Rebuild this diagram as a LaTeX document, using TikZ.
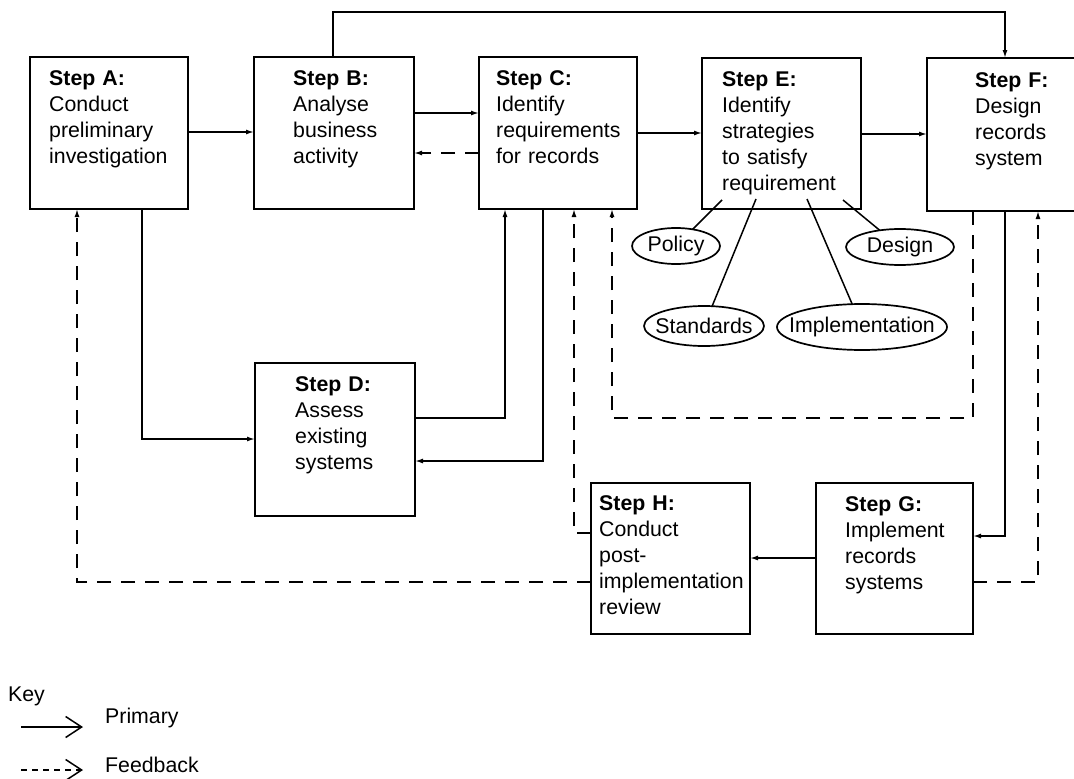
\documentclass[tikz,border=0pt]{standalone}
\usepackage{fontspec}
\setmainfont{Liberation Sans}
\usetikzlibrary{arrows.meta,shapes.geometric}
\newcommand\dgfont{\fontsize{21.3}{26}\selectfont}
\tikzset{
  stepbox/.style={draw, rectangle, line width=2.3pt, inner sep=0pt, outer sep=0pt},
  txt/.style={font=\dgfont, align=left, text width=165pt, inner sep=0pt, anchor=base west},
  pri/.style={line width=1.5pt, -{Latex[length=8pt,width=5pt]}},
  fb/.style={pri, dash pattern=on 14pt off 10pt},
  link/.style={line width=1.5pt},
  oval/.style={draw, ellipse, line width=1.7pt, inner sep=0pt, outer sep=0pt},
  every label/.style={font=\dgfont, inner sep=0pt},
  keytxt/.style={font=\dgfont, inner sep=0pt, anchor=base west},
}
\begin{document}
\begin{tikzpicture}[x=1pt,y=-1pt]
\useasboundingbox (0,0) rectangle (1074,779);
\fill[white] (0,0) rectangle (1074,779);
\clip (0,0) rectangle (1074,779);

% boxes
\node[stepbox, minimum width=158pt, minimum height=152pt] (A) at (109,133) {};
\node[stepbox, minimum width=160pt, minimum height=152pt] (B) at (334,133) {};
\node[stepbox, minimum width=158pt, minimum height=152pt] (C) at (558,133) {};
\node[stepbox, minimum width=159pt, minimum height=151pt] (E) at (781.5,133.5) {};
\node[stepbox, minimum width=160pt, minimum height=153pt] (F) at (1007,134.5) {};
\node[stepbox, minimum width=160pt, minimum height=153pt] (D) at (335,439.5) {};
\node[stepbox, minimum width=159pt, minimum height=151pt] (H) at (670.5,558.5) {};
\node[stepbox, minimum width=157pt, minimum height=151pt] (G) at (894.5,558.5) {};

% texts
\node[txt] (At) at (49,85) {\textbf{Step A:}\\Conduct\\preliminary\\investigation};
\node[txt] (Bt) at (293,85) {\textbf{Step B:}\\Analyse\\business\\activity};
\node[txt] (Ct) at (496,85) {\textbf{Step C:}\\Identify\\requirements\\for records};
\node[txt] (Et) at (722,86) {\textbf{Step E:}\\Identify\\strategies\\to satisfy\\requirement};
\node[txt] (Ft) at (975,87) {\textbf{Step F:}\\Design\\records\\system};
\node[txt] (Dt) at (295,391) {\textbf{Step D:}\\Assess\\existing\\systems};
\node[txt] (Ht) at (599,510) {\textbf{Step H:}\\Conduct\\post-\\implementation\\review};
\node[txt] (Gt) at (845,511) {\textbf{Step G:}\\Implement\\records\\systems};

% ellipses
\node[oval, minimum width=88pt, minimum height=36pt, label={center:Policy}] (pol) at (676,246) {};
\node[oval, minimum width=108pt, minimum height=36pt, label={center:Design}] (des) at (900,247) {};
\node[oval, minimum width=120pt, minimum height=40pt, label={center:Standards}] (std) at (704,326) {};
\node[oval, minimum width=170pt, minimum height=46pt, label={center:Implementation}] (imp) at (862,327) {};

\coordinate (e1) at (722,200);
\coordinate (e2) at (756,199);
\coordinate (e3) at (807,199);
\coordinate (e4) at (843,200);
\draw[link] (e1) -- (pol);
\draw[link] (e2) -- (std);
\draw[link] (e3) -- (imp);
\draw[link] (e4) -- (des);

% level coordinates
\coordinate (yTop) at (0,12);
\coordinate (yAB) at (0,132);
\coordinate (yBC) at (0,113);
\coordinate (yCB) at (0,153);
\coordinate (yCE) at (0,133);
\coordinate (yEF) at (0,134);
\coordinate (yAD) at (0,439);
\coordinate (yDC) at (0,418);
\coordinate (yCD) at (0,461);
\coordinate (yLoop) at (0,418);
\coordinate (yH) at (0,533);
\coordinate (yFG) at (0,536);
\coordinate (yGH) at (0,558);
\coordinate (yBot) at (0,582);
\coordinate (xAfb) at (77,0);
\coordinate (xAD) at (142,0);
\coordinate (xDC) at (505,0);
\coordinate (xCD) at (543,0);
\coordinate (xHC) at (574,0);
\coordinate (xLL) at (612,0);
\coordinate (xLR) at (973,0);
\coordinate (xFG) at (1005,0);
\coordinate (xGF) at (1038,0);
\coordinate (xBF) at (333,0);

% primary connectors
\draw[pri] (A.east |- yAB) -- (B.west |- yAB);
\draw[pri] (B.east |- yBC) -- (C.west |- yBC);
\draw[fb]  (C.west |- yCB) -- (B.east |- yCB);
\draw[pri] (C.east |- yCE) -- (E.west |- yCE);
\draw[pri] (E.east |- yEF) -- (F.west |- yEF);
\draw[pri] (B.north -| xBF) -- (xBF |- yTop) -| (F.north -| xFG);
\draw[pri] (A.south -| xAD) |- (D.west |- yAD);
\draw[pri] (D.east |- yDC) -| (C.south -| xDC);
\draw[pri] (C.south -| xCD) |- (D.east |- yCD);
\draw[pri] (F.south -| xFG) |- (G.east |- yFG);
\draw[pri] (G.west |- yGH) -- (H.east |- yGH);

% feedback connectors
\draw[fb] (H.west |- yH) -| (C.south -| xHC);
\draw[fb] (F.south -| xLR) |- (xLL |- yLoop) -- (C.south -| xLL);
\draw[fb] (G.east |- yBot) -| (F.south -| xGF);
\draw[fb] (H.west |- yBot) -| (A.south -| xAfb);

% key
\node[keytxt] (key) at (8,701) {Key};
\coordinate (k1a) at (21,727);
\coordinate (k1b) at (83,727);
\draw[line width=1.5pt, -{Straight Barb[length=16pt,width=21pt,line width=1.5pt]}] (k1a) -- (k1b);
\node[keytxt] (kp) at (105,723) {Primary};
\coordinate (k2a) at (21,770);
\coordinate (k2b) at (83,770);
\draw[line width=1.5pt, dash pattern=on 6pt off 5pt, -{Straight Barb[length=16pt,width=21pt,line width=1.5pt]}] (k2a) -- (k2b);
\node[keytxt] (kf) at (105,772) {Feedback};
\end{tikzpicture}
\end{document}
